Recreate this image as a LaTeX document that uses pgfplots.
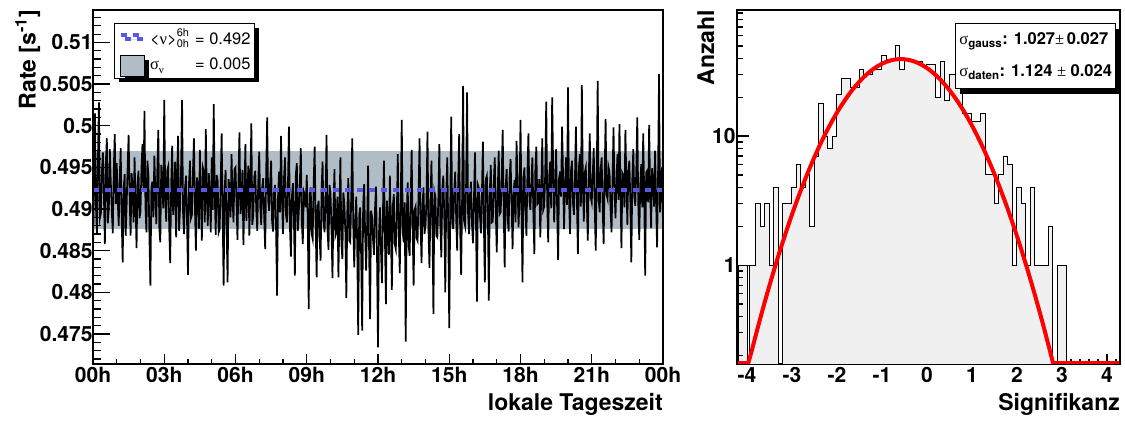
\documentclass[border=0pt]{standalone}
\usepackage{pgfplots}
\pgfplotsset{compat=1.18}
\usepackage{fontspec}
\setmainfont{TeX Gyre Heros}
\newfontfamily\symf{Liberation Serif}
\usetikzlibrary{shadows}
\definecolor{bandgray}{RGB}{176,189,199}
\definecolor{meanblue}{RGB}{88,88,228}
\definecolor{histgray}{RGB}{240,240,240}
\newcommand{\lstrut}{\rule[-10pt]{0pt}{30pt}}
\newcommand{\lstrutb}{\rule[-14pt]{0pt}{30pt}}
\begin{document}
\begin{tikzpicture}
\useasboundingbox (0,0) rectangle (1125pt,423pt);
\pgfplotsset{
  rootstyle/.style={
    scale only axis, anchor=south west,
    axis line style={line width=1.5pt},
    every tick/.style={black, line width=1.3pt},
    tick align=inside,
    tick pos=left,
    /pgf/number format/assume math mode=true,
    tick label style={font=\fontsize{21}{21}\selectfont\bfseries},
    label style={font=\fontsize{23}{23}\selectfont\bfseries},
  }
}
% ---------------- left panel (x = sample index, 2.5 min steps) ----------------
\begin{axis}[rootstyle, at={(93pt,59pt)}, width=570pt, height=354pt,
  xmin=0, xmax=576, ymin=0.4714, ymax=0.5139,
  xtick={0,72,...,576}, xticklabels={00h,03h,06h,09h,12h,15h,18h,21h,00h},
  minor xtick={0,24,...,576},
  major tick length=10pt, minor tick length=5pt,
  ytick=\empty,
  xlabel={lokale Tageszeit},
  xlabel style={at={(axis description cs:1,-0.13)}, anchor=base east, inner sep=0pt},
  reverse legend, legend cell align=left,
  legend style={at={(rel axis cs:0.037,0.963)}, anchor=north west, draw=black, line width=1pt,
    fill=white, font=\fontsize{16.5}{16.5}\selectfont, inner xsep=4pt, inner ysep=1pt, row sep=7pt,
    column sep=5pt, nodes={inner sep=0pt},
    general shadow={fill=black, shadow xshift=4pt, shadow yshift=-4pt}},
]
\addplot[fill=bandgray, draw=none,
  legend image code/.code={\draw[fill=bandgray, draw=black, line width=1pt] (0pt,-15pt) rectangle (24pt,6pt);}]
  coordinates {(0,0.4876) (576,0.4876) (576,0.4970) (0,0.4970)} -- cycle;
\addlegendentry{\lstrutb\makebox[45pt][l]{{\symf σ}\raisebox{-4pt}{\fontsize{11}{11}\selectfont\symf ν}}= 0.005}
\addplot[black, line width=1.7pt, forget plot] coordinates {
(0,.4848)(1,.4935)(2,.5015)(3,.4902)(4,.4870)(5,.4961)(6,.5028)(7,.4889)(8,.4895)(9,.4944)(10,.4968)(11,.4917)(12,.4858)(13,.4956)(14,.4985)(15,.4883)(16,.4901)(17,.4972)(18,.4932)(19,.4898)(20,.4871)(21,.4948)(22,.4990)(23,.4906)
(24,.4955)(25,.4910)(26,.4880)(27,.4938)(28,.4973)(29,.4887)(30,.4836)(31,.4925)(32,.4942)(33,.4868)(34,.4905)(35,.4951)(36,.4989)(37,.4915)(38,.4868)(39,.4943)(40,.4927)(41,.4884)(42,.4962)(43,.4907)(44,.4853)(45,.4932)(46,.4946)(47,.4889)
(48,.4897)(49,.4950)(50,.4978)(51,.4921)(52,.5018)(53,.4903)(54,.4872)(55,.4958)(56,.4940)(57,.4869)(58,.4808)(59,.4926)(60,.4933)(61,.4890)(62,.4964)(63,.4919)(64,.4882)(65,.4947)(66,.4995)(67,.4878)(68,.4860)(69,.4953)(70,.4931)(71,.4901)
(72,.5031)(73,.4912)(74,.4885)(75,.4946)(76,.4951)(77,.4879)(78,.4835)(79,.4929)(80,.4976)(81,.4893)(82,.4912)(83,.4957)(84,.4866)(85,.4936)(86,.4988)(87,.4874)(88,.4902)(89,.4949)(90,.5031)(91,.4896)(92,.4870)(93,.4925)(94,.4940)(95,.4887)
(96,.4821)(97,.4930)(98,.4958)(99,.4889)(100,.4893)(101,.4944)(102,.4985)(103,.4901)(104,.4850)(105,.4938)(106,.4927)(107,.4876)(108,.4971)(109,.4912)(110,.4862)(111,.4950)(112,.4945)(113,.4884)(114,.4996)(115,.4917)(116,.4880)(117,.4943)(118,.4918)(119,.4872)
(120,.4962)(121,.4899)(122,.5026)(123,.4920)(124,.4869)(125,.4941)(126,.4934)(127,.4872)(128,.4876)(129,.4930)(130,.4991)(131,.4895)(132,.4808)(133,.4923)(134,.4947)(135,.4881)(136,.4812)(137,.4936)(138,.4925)(139,.4890)(140,.4966)(141,.4912)(142,.4884)(143,.4948)
(144,.4950)(145,.4908)(146,.4863)(147,.4935)(148,.4992)(149,.4894)(150,.4905)(151,.4947)(152,.4857)(153,.4916)(154,.4978)(155,.4886)(156,.4921)(157,.4952)(158,.4868)(159,.4927)(160,.5003)(161,.4881)(162,.4893)(163,.4939)(164,.4946)(165,.4898)(166,.4874)(167,.4933)
(168,.4969)(169,.4903)(170,.4881)(171,.4926)(172,.4937)(173,.4889)(174,.4852)(175,.4944)(176,.5010)(177,.4911)(178,.4898)(179,.4932)(180,.4958)(181,.4885)(182,.4873)(183,.4921)(184,.4929)(185,.4877)(186,.4796)(187,.4915)(188,.4945)(189,.4896)(190,.4988)(191,.4913)
(192,.4870)(193,.4937)(194,.4962)(195,.4893)(196,.4884)(197,.4928)(198,.4999)(199,.4879)(200,.4843)(201,.4915)(202,.4931)(203,.4890)(204,.4820)(205,.4942)(206,.4955)(207,.4874)(208,.4897)(209,.4930)(210,.4973)(211,.4886)(212,.4858)(213,.4921)(214,.4917)(215,.4902)
(216,.4941)(217,.4889)(218,.4780)(219,.4917)(220,.4926)(221,.4870)(222,.4864)(223,.4932)(224,.4975)(225,.4881)(226,.4818)(227,.4903)(228,.4910)(229,.4866)(230,.4838)(231,.4924)(232,.4957)(233,.4885)(234,.4872)(235,.4911)(236,.4989)(237,.4874)(238,.4851)(239,.4929)
(240,.4920)(241,.4876)(242,.4817)(243,.4901)(244,.4948)(245,.4868)(246,.4872)(247,.4915)(248,.4818)(249,.4893)(250,.4962)(251,.4859)(252,.4840)(253,.4920)(254,.4906)(255,.4873)(256,.4793)(257,.4898)(258,.4937)(259,.4862)(260,.4860)(261,.4919)(262,.4985)(263,.4881)
(264,.4830)(265,.4884)(266,.4915)(267,.4857)(268,.4749)(269,.4893)(270,.4902)(271,.4842)(272,.4754)(273,.4905)(274,.4930)(275,.4869)(276,.4826)(277,.4880)(278,.4952)(279,.4851)(280,.4768)(281,.4898)(282,.4891)(283,.4863)(284,.4845)(285,.4901)(286,.4927)(287,.4846)
(288,.4734)(289,.4871)(290,.4902)(291,.4850)(292,.4811)(293,.4897)(294,.4958)(295,.4866)(296,.4786)(297,.4910)(298,.4883)(299,.4845)(300,.4940)(301,.4879)(302,.4803)(303,.4904)(304,.4918)(305,.4858)(306,.4852)(307,.4893)(308,.4966)(309,.4869)(310,.4823)(311,.4911)
(312,.5007)(313,.4873)(314,.4860)(315,.4908)(316,.4741)(317,.4889)(318,.4932)(319,.4856)(320,.4844)(321,.4912)(322,.4971)(323,.4877)(324,.4808)(325,.4899)(326,.4903)(327,.4865)(328,.4862)(329,.4917)(330,.4985)(331,.4883)(332,.4835)(333,.4906)(334,.4926)(335,.4870)
(336,.4881)(337,.4910)(338,.4993)(339,.4876)(340,.4829)(341,.4903)(342,.4958)(343,.4884)(344,.4774)(345,.4921)(346,.4915)(347,.4868)(348,.4866)(349,.4914)(350,.4978)(351,.4880)(352,.4842)(353,.4925)(354,.4940)(355,.4892)(356,.4800)(357,.4918)(358,.4962)(359,.4875)
(360,.4757)(361,.4902)(362,.5011)(363,.4884)(364,.4876)(365,.4921)(366,.4945)(367,.4889)(368,.4850)(369,.4931)(370,.4990)(371,.4877)(372,.4821)(373,.4913)(374,.5048)(375,.4886)(376,.4880)(377,.4927)(378,.5040)(379,.4895)(380,.4870)(381,.4918)(382,.4933)(383,.4881)
(384,.4859)(385,.4915)(386,.4968)(387,.4887)(388,.4789)(389,.4929)(390,.4925)(391,.4893)(392,.4871)(393,.4918)(394,.4981)(395,.4880)(396,.4812)(397,.4936)(398,.4940)(399,.4897)(400,.4790)(401,.4922)(402,.4953)(403,.4884)(404,.4885)(405,.4931)(406,.4962)(407,.4899)
(408,.4848)(409,.4921)(410,.4970)(411,.4894)(412,.4896)(413,.4938)(414,.4995)(415,.4902)(416,.4830)(417,.4927)(418,.4948)(419,.4889)(420,.4873)(421,.4940)(422,.4960)(423,.4906)(424,.4852)(425,.4919)(426,.4935)(427,.4884)(428,.4982)(429,.4934)(430,.4878)(431,.4911)
(432,.5007)(433,.4903)(434,.4812)(435,.4938)(436,.4950)(437,.4897)(438,.4868)(439,.4942)(440,.4991)(441,.4910)(442,.4899)(443,.4931)(444,.4962)(445,.4895)(446,.4846)(447,.4947)(448,.4975)(449,.4906)(450,.4908)(451,.4936)(452,.4866)(453,.4920)(454,.4985)(455,.4899)
(456,.4903)(457,.4944)(458,.5029)(459,.4908)(460,.4860)(461,.4939)(462,.4957)(463,.4901)(464,.5034)(465,.4948)(466,.4884)(467,.4926)(468,.4972)(469,.4902)(470,.4839)(471,.4937)(472,.4945)(473,.4915)(474,.4999)(475,.4941)(476,.4876)(477,.4928)(478,.4962)(479,.4905)
(480,.5046)(481,.4917)(482,.4870)(483,.4946)(484,.4958)(485,.4908)(486,.4893)(487,.4935)(488,.4999)(489,.4912)(490,.4846)(491,.4949)(492,.4966)(493,.4903)(494,.5049)(495,.4930)(496,.4885)(497,.4944)(498,.4950)(499,.4910)(500,.4862)(501,.4939)(502,.4991)(503,.4914)
(504,.4908)(505,.4941)(506,.4973)(507,.4904)(508,.4850)(509,.4933)(510,.5054)(511,.4912)(512,.4896)(513,.4947)(514,.4962)(515,.4905)(516,.4858)(517,.4938)(518,.5008)(519,.4917)(520,.4912)(521,.4950)(522,.4944)(523,.4899)(524,.4872)(525,.4936)(526,.4998)(527,.4921)
(528,.4889)(529,.4935)(530,.4966)(531,.4911)(532,.5002)(533,.4926)(534,.4853)(535,.4943)(536,.4940)(537,.4902)(538,.4995)(539,.4931)(540,.4881)(541,.4948)(542,.4958)(543,.4909)(544,.4836)(545,.4937)(546,.4972)(547,.4915)(548,.4904)(549,.4946)(550,.5010)(551,.4907)
(552,.4863)(553,.4929)(554,.4954)(555,.4902)(556,.4991)(557,.4917)(558,.4820)(559,.4944)(560,.4946)(561,.4908)(562,.5001)(563,.4921)(564,.4877)(565,.4949)(566,.4935)(567,.4903)(568,.4970)(569,.4913)(570,.4854)(571,.4940)(572,.5062)(573,.4896)(574,.4925)(575,.4950)
(576,.4880)};
\addplot[meanblue, line width=4pt, dash pattern=on 6pt off 6pt,
  legend image code/.code={\draw[meanblue, line width=4pt, dash pattern=on 6pt off 6pt] (0pt,0pt) -- (19pt,0pt);}]
  coordinates {(0,0.4923) (576,0.4923)};
\addlegendentry{\lstrut\makebox[45pt][l]{<{\symf ν}>\raisebox{-3pt}{\fontsize{11}{15}\selectfont\shortstack[l]{6h\\0h}}}= 0.492}
\end{axis}
\begin{axis}[rootstyle, at={(93pt,59pt)}, width=570pt, height=354pt,
  xmin=0, xmax=576, ymin=0.4714, ymax=0.5139, hide x axis,
  ytick={0.475,0.48,0.485,0.49,0.495,0.5,0.505,0.51},
  yticklabels={0.475,0.48,0.485,0.49,0.495,0.5,0.505,0.51},
  minor ytick={0.472,0.473,...,0.5135},
  major tick length=17pt, minor tick length=8pt,
  yticklabel style={xshift=3pt},
  ylabel={Rate [s\textsuperscript{-1}]},
  ylabel style={at={(axis description cs:-0.137,1)}, anchor=north east, inner sep=0pt},
]
\end{axis}
% ---------------- right panel ----------------
\begin{axis}[rootstyle, at={(737pt,59pt)}, width=383pt, height=354pt,
  ymode=log, xmin=-4.22, xmax=4.29, ymin=0.1715, ymax=94.8,
  xtick={-4,-3,-2,-1,0,1,2,3,4}, xticklabels={-4,-3,-2,-1,0,1,2,3,4},
  minor xtick={-4.2,-4.0,...,4.25},
  major tick length=10pt, minor tick length=5pt,
  ytick=\empty,
  xlabel={Signifikanz},
  xlabel style={at={(axis description cs:1,-0.13)}, anchor=base east, inner sep=0pt},
]
\addplot[const plot, draw=black, line width=1pt, fill=histgray] coordinates {
(-4.22,0.1)(-4.18,1)(-3.99,0.1)(-3.95,1)(-3.80,3)(-3.70,2)(-3.60,3)(-3.50,1)(-3.40,4)(-3.30,0.1)
(-3.20,3)(-3.10,3)(-3.00,4)(-2.90,6)(-2.80,4)(-2.70,5)(-2.60,2)(-2.50,7)(-2.40,18)(-2.30,10)
(-2.20,8)(-2.10,10)(-2.00,21)(-1.90,28)(-1.80,28)(-1.70,24)(-1.60,24)(-1.50,33)(-1.40,30)(-1.30,30)
(-1.20,33)(-1.10,33)(-1.00,42)(-0.90,39)(-0.80,39)(-0.70,50)(-0.60,33)(-0.50,40)(-0.40,38)(-0.30,38)
(-0.20,38)(-0.10,35)(0.00,36)(0.10,36)(0.20,20)(0.30,38)(0.40,19)(0.50,30)(0.60,30)(0.70,30)
(0.80,15)(0.90,15)(1.00,13)(1.10,13)(1.20,15)(1.30,5)(1.40,5)(1.50,3)(1.60,5)(1.70,7)
(1.80,6)(1.90,1)(2.00,4)(2.10,3)(2.20,1)(2.30,4)(2.40,1)(2.50,1)(2.60,1)(2.70,2)
(2.80,0.1)(2.90,1)(3.00,1)(3.10,0.1)(4.29,0.1)} -- cycle;
\addplot[red, line width=4pt, line join=round] coordinates {
(-4.20,0.1745)(-3.97,0.1745)(-3.9,0.2123)(-3.8,0.2894)(-3.7,0.3912)(-3.6,0.5232)(-3.5,0.6934)(-3.4,0.9104)
(-3.3,1.184)(-3.2,1.525)(-3.1,1.946)(-3.0,2.459)(-2.9,3.078)(-2.8,3.818)(-2.7,4.691)(-2.6,5.706)(-2.5,6.880)
(-2.4,8.214)(-2.3,9.716)(-2.2,11.38)(-2.1,13.21)(-2.0,15.19)(-1.9,17.29)(-1.8,19.50)(-1.7,21.79)(-1.6,24.13)
(-1.5,26.45)(-1.4,28.72)(-1.3,30.90)(-1.2,32.93)(-1.1,34.74)(-1.0,36.33)(-0.9,37.62)(-0.8,38.60)(-0.7,39.23)
(-0.6,39.49)(-0.5,39.38)(-0.4,38.90)(-0.3,38.07)(-0.2,36.89)(-0.1,35.42)(0.0,33.68)(0.1,31.72)(0.2,29.60)
(0.3,27.36)(0.4,25.06)(0.5,22.72)(0.6,20.41)(0.7,18.17)(0.8,16.02)(0.9,13.98)(1.0,12.09)(1.1,10.36)
(1.2,8.796)(1.3,7.394)(1.4,6.157)(1.5,5.079)(1.6,4.151)(1.7,3.359)(1.8,2.694)(1.9,2.139)(2.0,1.683)
(2.1,1.311)(2.2,1.012)(2.3,0.7741)(2.4,0.5861)(2.5,0.4399)(2.6,0.3269)(2.7,0.2406)(2.8,0.1755)(2.81,0.1745)(4.29,0.1745)};
\node[draw=black, fill=white, line width=1pt, general shadow={fill=black, shadow xshift=5pt, shadow yshift=-5pt},
  anchor=north west, minimum width=158pt, minimum height=65pt, inner xsep=4pt, align=left,
  font=\fontsize{16.5}{32}\selectfont\bfseries] at (rel axis cs:0.569,0.963)
  {{\symf\mdseries σ}\textsubscript{gauss}: 1.027{\symf\mdseries ±}\,0.027\\
   {\symf\mdseries σ}\textsubscript{daten}: 1.124 {\symf\mdseries ±} 0.024};
\end{axis}
\begin{axis}[rootstyle, at={(737pt,59pt)}, width=383pt, height=354pt,
  ymode=log, xmin=-4.22, xmax=4.29, ymin=0.1715, ymax=94.8, hide x axis,
  ytick={0.1,1,10,100}, log ticks with fixed point,
  minor ytick={0.2,0.3,0.4,0.5,0.6,0.7,0.8,0.9,2,3,4,5,6,7,8,9,20,30,40,50,60,70,80,90},
  major tick length=12pt, minor tick length=6pt,
  yticklabel style={xshift=2pt},
  ylabel={Anzahl},
  ylabel style={at={(axis description cs:-0.104,1)}, anchor=north east, inner sep=0pt},
]
\end{axis}
\end{tikzpicture}
\end{document}
